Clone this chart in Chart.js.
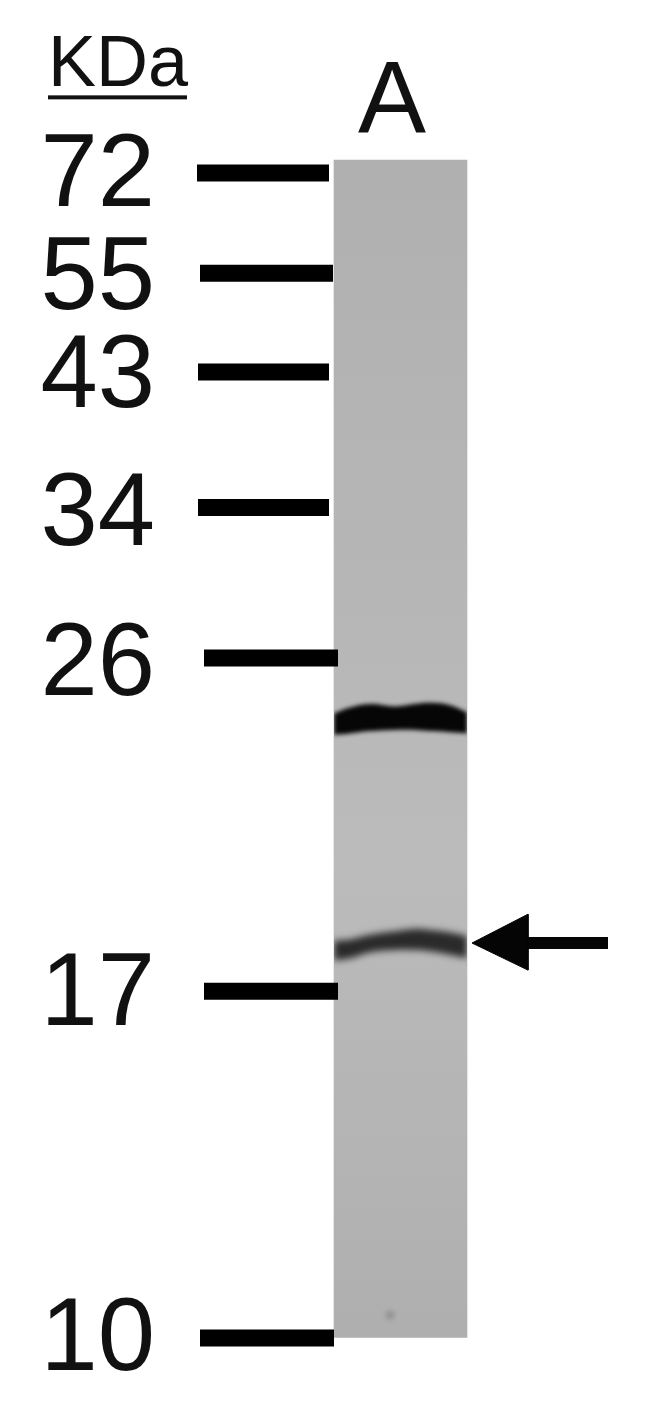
<!DOCTYPE html>
<html>
<head>
<meta charset="utf-8">
<style>
  html, body { margin: 0; padding: 0; background: #fff; }
  #wrap { width: 650px; height: 1421px; }
</style>
<script src="https://cdn.jsdelivr.net/npm/chart.js@4/dist/chart.umd.js"></script>
</head>
<body>
<div id="wrap"><canvas id="blot"></canvas></div>
<script>
// y values are migration along the lane in %, 0 = top of lane, 100 = bottom
var kdaLabels = ['72', '55', '43', '34', '26', '17', '10'];
var labelMigration = [1.5, 10.25, 18.6, 30.25, 43.05, 71.05, 100.35];
var markerMigration = [1.1, 9.6, 18.0, 29.5, 42.3, 70.6, 100.05];
var markerStart = [197, 200, 198, 198, 204, 204, 200];
var markerEnd = [329, 333, 329, 329, 338, 338, 334];

var laneCenter = [400.5];
var laneRange = [0, 100];

var bandX = [334, 350, 370, 395, 415, 430, 450, 467];
var upperBandTop = [47.0, 46.5, 46.2, 46.4, 46.2, 46.1, 46.3, 46.9];
var upperBandBottom = [48.8, 48.7, 48.5, 48.4, 48.4, 48.5, 48.6, 48.7];
var lowerBandTop = [66.3, 66.2, 65.8, 65.5, 65.3, 65.4, 65.6, 65.9];
var lowerBandBottom = [68.0, 67.8, 67.3, 67.1, 67.1, 67.2, 67.5, 67.8];

var speckX = [390];
var speckY = [98.1];

var arrowShaftX = [528, 608];
var arrowHeadX = [472, 528, 528, 472];
var arrowHeadY = [66.5, 64.05, 68.8, 66.5];
var arrowMigration = 66.5;

function zipPoints(xs, ys) {
  return xs.map(function (x, i) { return { x: x, y: ys[i] }; });
}

// one line broken with gaps, a stroke per size marker
var markerPoints = [];
markerMigration.forEach(function (m, i) {
  markerPoints.push({ x: markerStart[i], y: m });
  markerPoints.push({ x: markerEnd[i], y: m });
  markerPoints.push({ x: markerEnd[i], y: null });
});

function bandDataset(ys, fill, color, soft) {
  return {
    type: 'line',
    data: zipPoints(bandX, ys),
    fill: fill,
    backgroundColor: color,
    borderWidth: 0,
    pointRadius: 0,
    tension: 0.4,
    soft: soft,
    order: 2
  };
}

// blur per dataset, has to run before Filler paints the bands
var softPlugin = {
  id: 'soft',
  beforeDatasetDraw: function (chart, args) {
    var s = chart.data.datasets[args.index].soft;
    if (s) chart.ctx.filter = 'blur(' + s + 'px)';
  },
  afterDatasetDraw: function (chart) {
    chart.ctx.filter = 'none';
  }
};
Chart.unregister(Chart.Filler);
Chart.register(softPlugin, Chart.Filler);

var headingPlugin = {
  id: 'headings',
  afterDraw: function (chart) {
    var c = chart.ctx;
    var y = chart.scales.y;
    c.save();
    c.fillStyle = '#111';
    c.textBaseline = 'alphabetic';
    c.textAlign = 'left';
    c.font = '72px "Liberation Sans"';
    c.fillText('KDa', 48, y.getPixelForValue(-6.3));
    c.fillRect(48, y.getPixelForValue(-5.5), 139, 4);
    c.textAlign = 'center';
    c.font = '102px "Liberation Sans"';
    c.fillText('A', 392, y.getPixelForValue(-2.3));
    c.restore();
  }
};

new Chart(document.getElementById('blot'), {
  type: 'scatter',
  data: {
    datasets: [
      {
        type: 'bar',
        data: [{ x: laneCenter[0], y: laneRange }],
        barThickness: 133,
        backgroundColor: function (ctx) {
          var area = ctx.chart.chartArea;
          if (!area) return '#b4b4b4';
          var y = ctx.chart.scales.y;
          var g = ctx.chart.ctx.createLinearGradient(0, y.getPixelForValue(0), 0, y.getPixelForValue(100));
          g.addColorStop(0, '#b0b0b0');
          g.addColorStop(0.35, '#b6b6b6');
          g.addColorStop(0.6, '#bbbbbb');
          g.addColorStop(1, '#afafaf');
          return g;
        },
        order: 3
      },
      bandDataset(upperBandTop, '+1', '#060606', 2.2),
      bandDataset(upperBandBottom, false, '#060606', 2.2),
      bandDataset(lowerBandTop, '+1', '#2a2a2a', 3.5),
      bandDataset(lowerBandBottom, false, '#2a2a2a', 3.5),
      {
        data: zipPoints(speckX, speckY),
        pointRadius: 5,
        backgroundColor: 'rgba(135,135,135,0.6)',
        borderWidth: 0,
        soft: 2,
        order: 2
      },
      {
        data: markerPoints,
        showLine: true,
        spanGaps: false,
        borderColor: '#000',
        borderWidth: 17,
        borderCapStyle: 'butt',
        pointRadius: 0,
        soft: 0.6,
        order: 1
      },
      {
        data: zipPoints(arrowShaftX, [arrowMigration, arrowMigration]),
        showLine: true,
        borderColor: '#050505',
        borderWidth: 12,
        borderCapStyle: 'butt',
        pointRadius: 0,
        soft: 0.6,
        order: 1
      },
      {
        type: 'line',
        data: zipPoints(arrowHeadX, arrowHeadY),
        fill: 'shape',
        backgroundColor: '#050505',
        borderColor: '#050505',
        borderWidth: 1,
        pointRadius: 0,
        soft: 0.6,
        order: 1
      }
    ]
  },
  options: {
    responsive: true,
    maintainAspectRatio: false,
    animation: false,
    layout: { padding: 0, autoPadding: false },
    plugins: { legend: { display: false }, tooltip: { enabled: false } },
    scales: {
      x: { type: 'linear', display: false, offset: false, min: 160, max: 650 },
      y: {
        type: 'linear',
        reverse: true,
        min: -13.6,
        max: 107.1,
        afterFit: function (scale) {
          scale.width = 160;
          // labels near the ends must not shrink the plot
          scale.paddingTop = 0;
          scale.paddingBottom = 0;
        },
        afterBuildTicks: function (scale) {
          scale.ticks = labelMigration.map(function (v) { return { value: v }; });
        },
        grid: { display: false, drawTicks: false },
        border: { display: false },
        ticks: {
          autoSkip: false,
          padding: 5,
          color: '#111',
          font: { family: '"Liberation Sans"', size: 103 },
          callback: function (v, i) { return kdaLabels[i]; }
        }
      }
    }
  },
  plugins: [headingPlugin]
});
</script>
</body>
</html>
